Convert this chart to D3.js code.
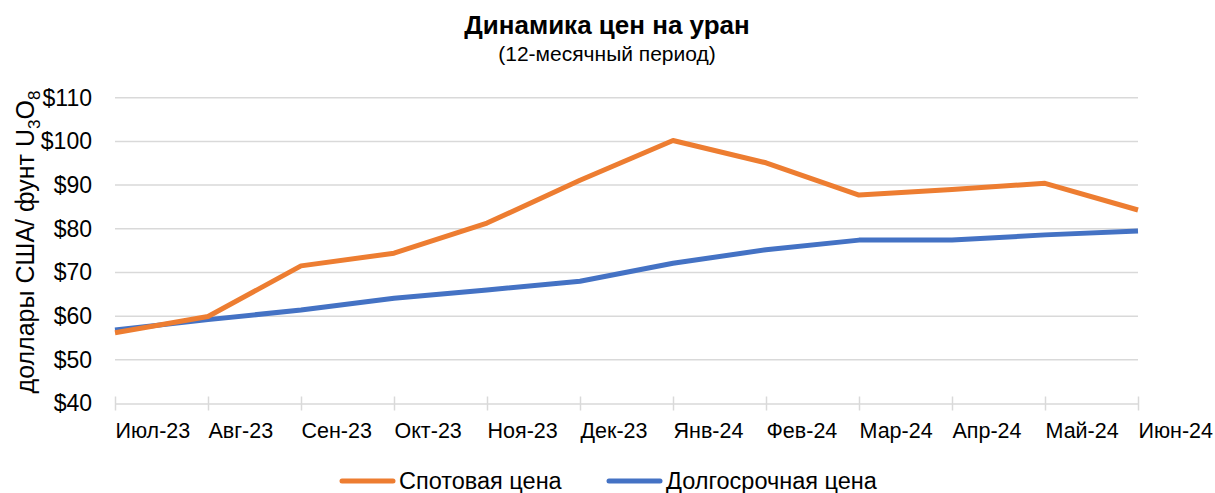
<!DOCTYPE html>
<html>
<head>
<meta charset="utf-8">
<script src="https://cdn.jsdelivr.net/npm/d3@7"></script>
<style>
  body { margin: 0; background: #fff; }
  text { font-family: "Liberation Sans", Arial, sans-serif; fill: #000; }
</style>
</head>
<body>
<div id="canvas"></div>
<script>
"use strict"

/* chart data */
let months = ["Июл-23", "Авг-23", "Сен-23", "Окт-23", "Ноя-23", "Дек-23",
    "Янв-24", "Фев-24", "Мар-24", "Апр-24", "Май-24", "Июн-24"];
let spotPrice = [56.2, 59.9, 71.5, 74.4, 81.3, 91.1, 100.2, 95.1, 87.7, 89.0, 90.4, 84.3];
let longTermPrice = [56.8, 59.2, 61.4, 64.1, 66.0, 68.0, 72.1, 75.2, 77.4, 77.4, 78.6, 79.5];
let yTicks = [40, 50, 60, 70, 80, 90, 100, 110];

let drawing = d3.select("#canvas")
    .append("svg")
    .attr("width", 1215)
    .attr("height", 493);

let x = d3.scalePoint()
    .domain(months)
    .range([115, 1138]);

let y = d3.scaleLinear()
    .domain([40, 110])
    .range([403.5, 97.7]);

/* gridlines */
drawing.append("g")
    .selectAll("line")
    .data(yTicks.slice(1))
    .join("line")
    .attr("x1", 115)
    .attr("x2", 1138)
    .attr("y1", d => y(d))
    .attr("y2", d => y(d))
    .attr("stroke", "#d9d9d9")
    .attr("stroke-width", 1.5);

/* y axis labels */
let yAxis = drawing.append("g")
    .attr("transform", "translate(115,0)")
    .call(d3.axisLeft(y).tickValues(yTicks).tickSize(0).tickPadding(23).tickFormat(d => "$" + d));
yAxis.select(".domain").remove();
yAxis.selectAll("text")
    .style("font-size", "23px")
    .style("font-family", "'Liberation Sans', Arial, sans-serif");

/* x axis */
let xAxis = drawing.append("g")
    .attr("transform", "translate(0," + y(40) + ")")
    .call(d3.axisBottom(x).tickSize(7).tickPadding(12).tickSizeOuter(0));
xAxis.select(".domain")
    .attr("stroke", "#d9d9d9")
    .attr("stroke-width", 1.5);
xAxis.selectAll(".tick line")
    .attr("stroke", "#d9d9d9")
    .attr("stroke-width", 1.5)
    .attr("y1", -7)
    .attr("y2", 7);
xAxis.selectAll("text")
    .attr("text-anchor", "start")
    .style("font-size", "21.5px")
    .style("font-family", "'Liberation Sans', Arial, sans-serif");

/* lines */
let line = d3.line()
    .x((d, i) => x(months[i]))
    .y(d => y(d));

drawing.append("path")
    .datum(longTermPrice)
    .attr("d", line)
    .attr("fill", "none")
    .attr("stroke", "#4472C4")
    .attr("stroke-width", 5)
    .attr("stroke-linejoin", "round");

drawing.append("path")
    .datum(spotPrice)
    .attr("d", line)
    .attr("fill", "none")
    .attr("stroke", "#ED7D31")
    .attr("stroke-width", 5)
    .attr("stroke-linejoin", "round");

/* title */
drawing.append("text")
    .attr("x", 607)
    .attr("y", 34)
    .attr("text-anchor", "middle")
    .style("font-size", "26px")
    .style("font-weight", "bold")
    .text("Динамика цен на уран");

drawing.append("text")
    .attr("x", 607)
    .attr("y", 61)
    .attr("text-anchor", "middle")
    .style("font-size", "21px")
    .text("(12-месячный период)");

/* y axis title */
let yTitle = drawing.append("text")
    .attr("transform", "translate(34,242) rotate(-90)")
    .attr("text-anchor", "middle")
    .style("font-size", "25px");
yTitle.append("tspan").text("доллары США/ фунт U");
yTitle.append("tspan").attr("dy", 6).style("font-size", "17px").text("3");
yTitle.append("tspan").attr("dy", -6).text("O");
yTitle.append("tspan").attr("dy", 6).style("font-size", "17px").text("8");

/* legend */
let legendItems = [
    { name: "Спотовая цена", color: "#ED7D31", x: 340 },
    { name: "Долгосрочная цена", color: "#4472C4", x: 607 }
];

let legend = drawing.append("g")
    .selectAll("g")
    .data(legendItems)
    .join("g")
    .attr("transform", d => "translate(" + d.x + ",481)");

legend.append("line")
    .attr("x1", 2)
    .attr("x2", 53)
    .attr("stroke", d => d.color)
    .attr("stroke-width", 5)
    .attr("stroke-linecap", "round");

legend.append("text")
    .attr("x", 59)
    .attr("y", 8)
    .style("font-size", "23.5px")
    .text(d => d.name);
</script>
</body>
</html>
